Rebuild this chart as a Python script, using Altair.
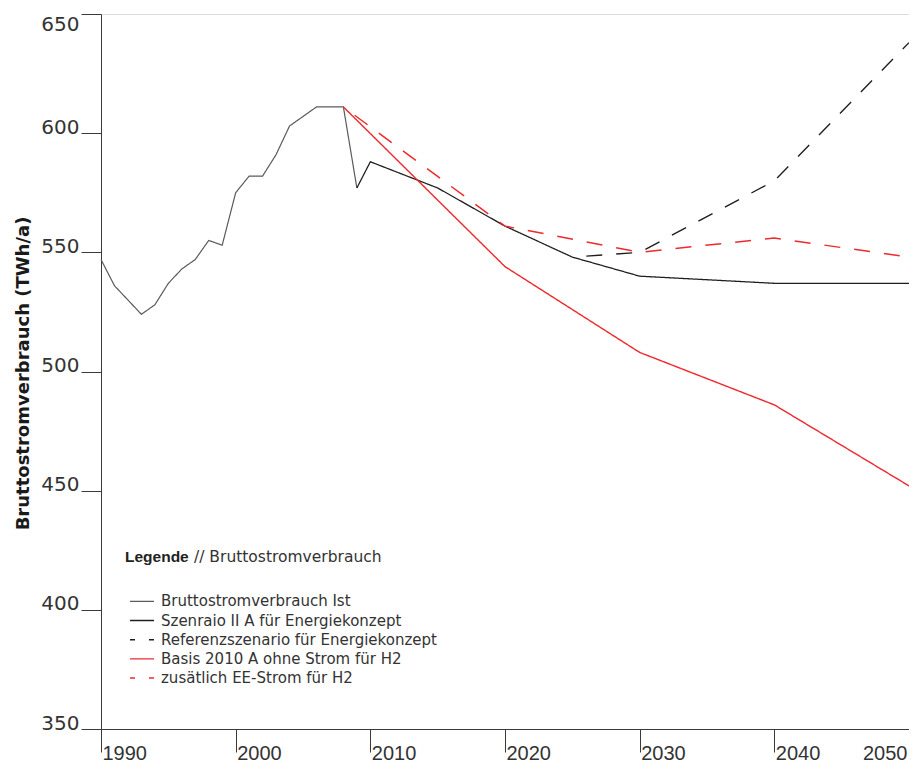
import altair as alt
import pandas as pd

# ---- data ----
ist_years = list(range(1990, 2010))
ist_values = [547, 536, 530, 524, 528, 537, 543, 547, 555, 553,
              575, 582, 582, 591, 603, 607, 611, 611, 611, 577]

sz2a_years = [2009, 2010, 2015, 2020, 2025, 2030, 2040, 2050]
sz2a_values = [577, 588, 577, 561, 548, 540, 537, 537]

ref_years = [2025, 2030, 2040, 2050]
ref_values = [548, 550, 580, 638]

basis_years = [2008, 2020, 2030, 2040, 2050]
basis_values = [611, 544, 508, 486, 452]

ee_years = [2008, 2020, 2030, 2040, 2050]
ee_values = [611, 561, 550, 556, 548]

series_names = [
    "Bruttostromverbrauch Ist",
    "Szenraio II A für Energiekonzept",
    "Referenzszenario für Energiekonzept",
    "Basis 2010 A ohne Strom für H2",
    "zusätlich EE-Strom für H2",
]
series_colors = ["#5a5a5a", "#1e1e1e", "#1e1e1e", "#ee2a2e", "#ee2a2e"]
series_dashes = [[1, 0], [1, 0], [16, 14], [1, 0], [16, 14]]
series_widths = [1.2, 1.5, 1.5, 1.4, 1.5]

x_ticks = [1990, 2000, 2010, 2020, 2030, 2040, 2050]
y_ticks = [350, 400, 450, 500, 550, 600, 650]

rows = []
for name, yrs, vals in zip(series_names,
                           [ist_years, sz2a_years, ref_years, basis_years, ee_years],
                           [ist_values, sz2a_values, ref_values, basis_values, ee_values]):
    for y, v in zip(yrs, vals):
        rows.append({"series": name, "year": y, "value": v})
df = pd.DataFrame(rows)

legend = alt.Legend(
    title="Legende",
    orient="none",
    legendX=24,
    legendY=536,
    padding=0,
    titleFont="Liberation Sans",
    titleFontSize=15.5,
    titleFontWeight="bold",
    titleColor="#222222",
    titlePadding=28.3,
    titleBaseline="top",
    symbolType="M-1.8,0H1.8",
    symbolSize=178,
    symbolStrokeWidth=1.5,
    symbolOffset=9.5,
    symbolDashOffset=11,
    labelFont="DejaVu Sans",
    labelFontSize=15,
    labelColor="#333333",
    labelOffset=11.5,
    rowPadding=3.2,
    labelLimit=400,
)

lines = alt.Chart(df).mark_line(strokeCap="butt", strokeDashOffset=16).encode(
    x=alt.X(
        "year:Q",
        scale=alt.Scale(domain=[1990, 2050], nice=False, zero=False),
        axis=alt.Axis(
            values=x_ticks,
            format="d",
            title=None,
            grid=False,
            tickSize=23,
            labelPadding=7,
            labelFont="Liberation Sans",
            labelFontSize=20,
            labelColor="#333333",
            labelBaseline="alphabetic",
            labelAlign={"condition": {"test": "datum.value >= 2050", "value": "right"}, "value": "left"},
            labelOffset={"condition": {"test": "datum.value >= 2050", "value": -2}, "value": 1},
            labelFlush=False,
            labelOverlap=False,
            domainColor="#3a3a3a",
            tickColor="#3a3a3a",
        ),
    ),
    y=alt.Y(
        "value:Q",
        scale=alt.Scale(domain=[350, 650], nice=False, zero=False),
        axis=alt.Axis(
            values=y_ticks,
            format="d",
            title="Bruttostromverbrauch (TWh/a)",
            titleFont="DejaVu Sans",
            titleFontSize=18,
            titleFontWeight="bold",
            titleColor="#1a1a1a",
            titleX=-73,
            titleY=359,
            titleBaseline="alphabetic",
            titleAngle=270,
            grid=False,
            tickSize=20,
            labelPadding=2,
            labelFont="DejaVu Sans",
            labelFontSize=20,
            labelColor="#333333",
            labelAlign="right",
            labelBaseline={"condition": {"test": "datum.value >= 650", "value": "top"}, "value": "alphabetic"},
            labelFlush=False,
            labelOverlap=False,
            domainColor="#3a3a3a",
            tickColor="#3a3a3a",
        ),
    ),
    color=alt.Color(
        "series:N",
        scale=alt.Scale(domain=series_names, range=series_colors),
        legend=legend,
    ),
    strokeDash=alt.StrokeDash(
        "series:N",
        scale=alt.Scale(domain=series_names, range=series_dashes),
        legend=legend,
    ),
    strokeWidth=alt.StrokeWidth(
        "series:N",
        scale=alt.Scale(domain=series_names, range=series_widths),
        legend=None,
    ),
)

header = alt.Chart(pd.DataFrame({"t": ["// Bruttostromverbrauch"]})).mark_text(
    align="left", baseline="top", font="DejaVu Sans", fontSize=15.5, color="#333333"
).encode(text="t:N", x=alt.value(93), y=alt.value(536))

chart = alt.layer(lines, header).properties(
    width=808,
    height=715,
    padding={"left": 93, "top": 6, "right": 0, "bottom": 34},
    autosize=alt.AutoSizeParams(type="none"),
).configure_view(stroke=None).configure(background="white")

chart.save("out.html", embed_options={"renderer": "svg", "actions": False})
